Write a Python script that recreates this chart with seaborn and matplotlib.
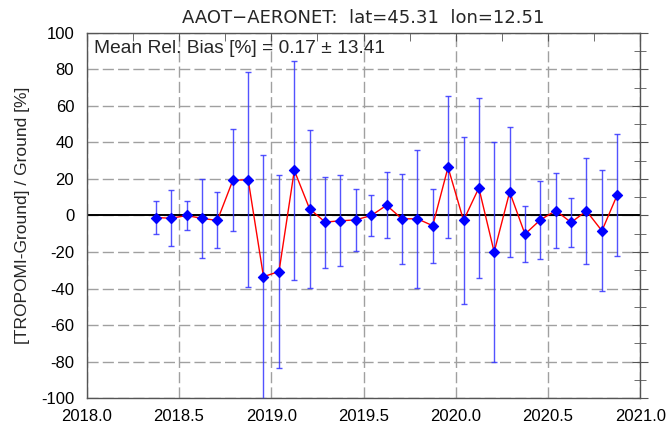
import matplotlib
matplotlib.use('Agg')
import matplotlib.pyplot as plt
from matplotlib.ticker import MultipleLocator
import seaborn as sns
import pandas as pd

# monthly means, May 2018 - Nov 2020 (decimal year, mid-month)
years = [2018.375, 2018.458, 2018.542, 2018.625, 2018.708, 2018.792, 2018.875, 2018.958,
         2019.042, 2019.125, 2019.208, 2019.292, 2019.375, 2019.458, 2019.542, 2019.625,
         2019.708, 2019.792, 2019.875, 2019.958, 2020.042, 2020.125, 2020.208, 2020.292,
         2020.375, 2020.458, 2020.542, 2020.625, 2020.708, 2020.792, 2020.875]
rel_bias = [-1.1, -1.5, 0.0, -1.6, -2.7, 19.3, 19.6, -33.5,
            -30.7, 24.7, 3.6, -3.6, -2.9, -2.4, 0.0, 5.6,
            -1.8, -1.8, -5.6, 26.4, -2.7, 15.1, -20.0, 12.9,
            -10.2, -2.4, 2.7, -3.8, 2.5, -8.4, 11.3]
rel_std = [9.3, 15.3, 8.2, 21.7, 15.3, 27.9, 59.0, 66.8,
           53.0, 59.8, 43.3, 24.9, 25.0, 17.1, 11.3, 18.0,
           24.8, 37.7, 20.3, 39.0, 45.9, 49.4, 60.0, 35.8,
           15.5, 21.5, 20.5, 13.3, 29.1, 33.2, 33.4]

title = "AAOT\u2212AERONET:  lat=45.31  lon=12.51"
label = "Mean Rel. Bias [%] = 0.17 \u00b1 13.41"

df = pd.DataFrame({'year': years, 'bias': rel_bias, 'std': rel_std})

sns.set_style('white')
plt.rcParams['font.family'] = ['Liberation Sans', 'DejaVu Sans']
plt.rcParams['axes.unicode_minus'] = False

fig = plt.figure(figsize=(6.67, 4.28), dpi=100)
ax = fig.add_axes([0.130, 0.070, 0.830, 0.853])

# grid
ax.xaxis.set_major_locator(MultipleLocator(0.5))
ax.xaxis.set_minor_locator(MultipleLocator(0.25))
ax.yaxis.set_major_locator(MultipleLocator(20))
ax.yaxis.set_minor_locator(MultipleLocator(10))
ax.grid(True, which='major', color='#a0a0a0', linestyle=(0, (8, 3)), linewidth=1.0)
ax.set_axisbelow(True)

ax.axhline(0, color='black', linewidth=1.4, zorder=2)

ax.errorbar(df['year'], df['bias'], yerr=df['std'], fmt='none',
            ecolor='#3535ff', elinewidth=1.0, capsize=2, capthick=1.0, alpha=0.85, zorder=3)
sns.lineplot(data=df, x='year', y='bias', color='red', linewidth=1.0, ax=ax, zorder=4)
sns.scatterplot(data=df, x='year', y='bias', marker='D', s=27, color='#0000ff',
                edgecolor='#0000ff', linewidth=0.8, ax=ax, zorder=5)

ax.set_xlim(2018.0, 2021.0)
ax.set_ylim(-100, 100)
ax.set_xticklabels([f"{v:.1f}" for v in ax.get_xticks()])

ax.tick_params(axis='both', which='both', labelsize=12, colors='#555555', labelcolor='black')
ax.tick_params(axis='x', which='both', direction='in', top=True, length=6, pad=8)
ax.tick_params(axis='y', which='major', direction='inout', right=True, length=12, pad=3)
ax.tick_params(axis='y', which='minor', direction='inout', right=True, length=8)
for sp in ax.spines.values():
    sp.set_color('#555555')
    sp.set_linewidth(1.0)

ax.set_xlabel('')
ax.set_ylabel("[TROPOMI-Ground] / Ground [%]", fontsize=12.5, labelpad=8)
ax.set_title(title, fontsize=13, family='DejaVu Sans', pad=7)
ax.text(0.014, 0.958, label, transform=ax.transAxes, fontsize=13.8,
        ha='left', va='center')

fig.savefig('out.png', dpi=100)
